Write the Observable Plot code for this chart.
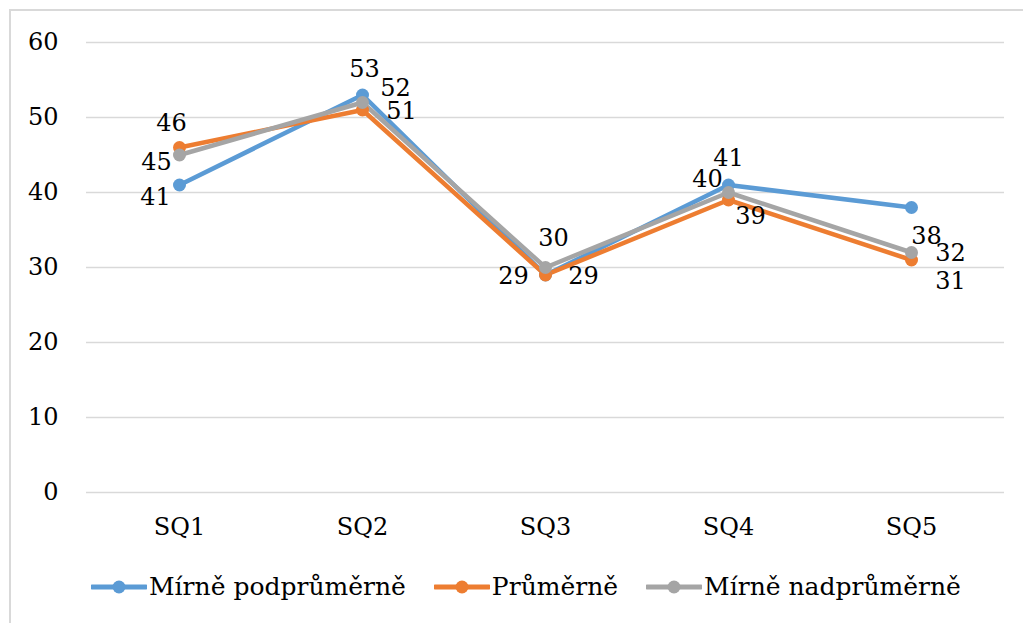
<!DOCTYPE html>
<html>
<head>
<meta charset="utf-8">
<script src="https://cdn.jsdelivr.net/npm/d3@7"></script>
<script src="https://cdn.jsdelivr.net/npm/@observablehq/plot@0.6"></script>
<style>
  html, body { margin: 0; padding: 0; background: #fff; }
  body { width: 1023px; height: 623px; position: relative; overflow: hidden; font-family: "DejaVu Serif", serif; }
  #frame { position: absolute; left: 9px; top: 9px; width: 1100px; height: 700px; border-left: 2px solid #d9d9d9; border-top: 2px solid #d9d9d9; }
  #chart { position: absolute; left: 0; top: 0; }
  #legend { position: absolute; left: 91px; top: 572px; display: flex; align-items: center; font-size: 25px; color: #000; white-space: nowrap; }
  .item { display: flex; align-items: center; margin-right: 28px; }
  .item svg { margin-right: 2px; }
</style>
</head>
<body>
<div id="frame"></div>
<div id="chart"></div>
<div id="legend"></div>
<script>
const categories = ["SQ1", "SQ2", "SQ3", "SQ4", "SQ5"];
const seriesNames = ["Mírně podprůměrně", "Průměrně", "Mírně nadprůměrně"];
const podprumerne = [41, 53, 29, 41, 38];
const prumerne = [46, 51, 29, 39, 31];
const nadprumerne = [45, 52, 30, 40, 32];
const yTicks = [0, 10, 20, 30, 40, 50, 60];

const colors = ["#5B9BD5", "#ED7D31", "#A5A5A5"];
const seriesValues = [podprumerne, prumerne, nadprumerne];
const serif = "DejaVu Serif";
const fs = 24;

const data = [];
seriesValues.forEach((vals, si) => {
  vals.forEach((v, ci) => data.push({series: seriesNames[si], cat: categories[ci], value: v}));
});

// label offsets [dx, dy] per series per category (placement only)
const labelOffsets = [
  [[-24, 12], [2, -26], [-32, 1], [0, -27], [15, 29]],
  [[-8, -24], [39, 1], [38, 1], [22, 16], [39, 21]],
  [[-23, 7], [33, -14], [8, -29], [-21, -13], [39, 1]]
];

const labelMarks = [];
seriesValues.forEach((vals, si) => {
  vals.forEach((v, ci) => {
    const [dx, dy] = labelOffsets[si][ci];
    labelMarks.push(Plot.text([{cat: categories[ci], value: v}], {
      x: "cat", y: "value", text: d => String(d.value), dx, dy,
      fontSize: fs, fontFamily: serif, fill: "#000", textAnchor: "middle", lineAnchor: "middle"
    }));
  });
});

const chart = Plot.plot({
  width: 1023,
  height: 560,
  marginLeft: 86,
  marginRight: 19,
  marginTop: 42,
  marginBottom: 68,
  style: {fontFamily: serif, fontSize: fs + "px", background: "transparent", color: "#000"},
  x: {type: "point", domain: categories, padding: 0.5, label: null},
  y: {domain: [0, 60], label: null},
  color: {domain: seriesNames, range: colors},
  marks: [
    Plot.ruleY(yTicks, {stroke: "#d9d9d9", strokeWidth: 1.5}),
    Plot.axisY(yTicks, {tickSize: 0, tickPadding: 28, fontSize: fs, fontFamily: serif, label: null}),
    Plot.axisX(categories, {tickSize: 0, tickPadding: 25, fontSize: fs, fontFamily: serif, label: null}),
    ...seriesNames.map(name => Plot.line(data.filter(d => d.series === name), {
      x: "cat", y: "value", stroke: "series", strokeWidth: 4.5, strokeLinejoin: "round", strokeLinecap: "round"
    })),
    ...seriesNames.map(name => Plot.dot(data.filter(d => d.series === name), {
      x: "cat", y: "value", fill: "series", r: 6.5
    })),
    ...labelMarks
  ]
});
document.getElementById("chart").appendChild(chart);

const legend = document.getElementById("legend");
seriesNames.forEach((name, i) => {
  const item = document.createElement("div");
  item.className = "item";
  item.innerHTML = `<svg width="56" height="16"><line x1="1" y1="8" x2="55" y2="8" stroke="${colors[i]}" stroke-width="5" stroke-linecap="round"/><circle cx="28" cy="8" r="6.5" fill="${colors[i]}"/></svg><span>${name}</span>`;
  legend.appendChild(item);
});
</script>
</body>
</html>
